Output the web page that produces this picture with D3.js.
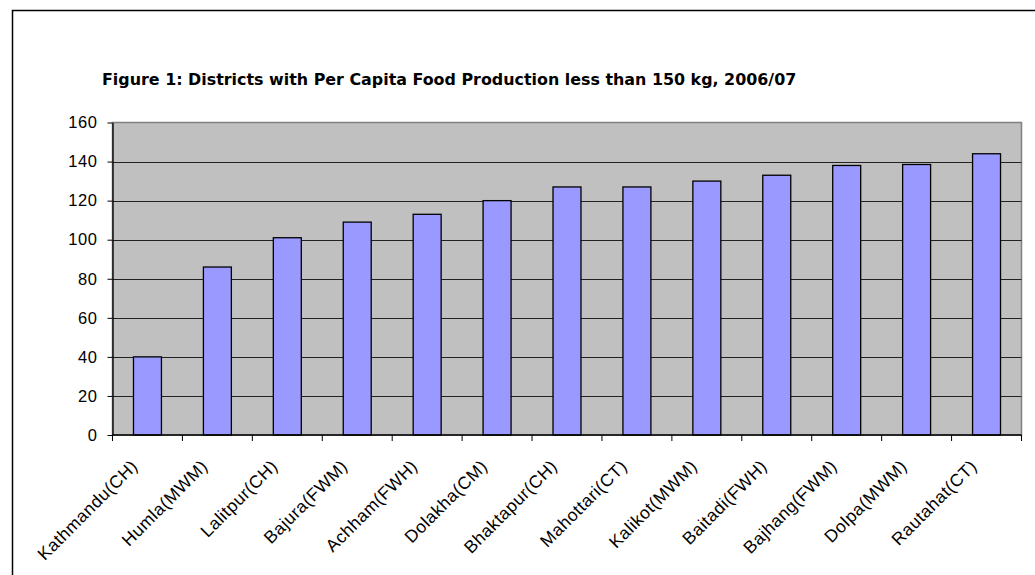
<!DOCTYPE html>
<html>
<head>
<meta charset="utf-8">
<script src="https://cdn.jsdelivr.net/npm/d3@7"></script>
<style>
  html, body { margin: 0; padding: 0; background: #fff; }
  svg { display: block; }
</style>
</head>
<body>
<svg id="chart" width="1035" height="575"></svg>
<script>
// District names with their agro-ecological zone codes
const districts = [
  "Kathmandu(CH)", "Humla(MWM)", "Lalitpur(CH)", "Bajura(FWM)", "Achham(FWH)",
  "Dolakha(CM)", "Bhaktapur(CH)", "Mahottari(CT)", "Kalikot(MWM)", "Baitadi(FWH)",
  "Bajhang(FWM)", "Dolpa(MWM)", "Rautahat(CT)"
];
// Per capita food production, kg
const production = [40, 86, 101, 109, 113, 120, 127, 127, 130, 133, 138, 138.5, 144];
// Value axis ticks
const yTicks = [0, 20, 40, 60, 80, 100, 120, 140, 160];
const titleText = "Figure 1: Districts with Per Capita Food Production less than 150 kg, 2006/07";

const svg = d3.select("#chart");
const labelFont = "'Liberation Sans', Arial, sans-serif";

// Outer chart frame (continues past the visible window on right and bottom)
svg.append("rect")
  .attr("x", 12.5).attr("y", 10.5)
  .attr("width", 1040).attr("height", 600)
  .attr("fill", "#fff").attr("stroke", "#000").attr("stroke-width", 1.5);

const plot = { left: 112.5, right: 1021.5, top: 122.5, bottom: 435 };

const x = d3.scaleBand()
  .domain(districts)
  .range([plot.left, plot.right])
  .paddingInner(0.6).paddingOuter(0.3);

const y = d3.scaleLinear()
  .domain([0, 160])
  .range([plot.bottom, plot.top]);

// Plot area background
svg.append("rect")
  .attr("x", plot.left).attr("y", plot.top)
  .attr("width", plot.right - plot.left).attr("height", plot.bottom - plot.top)
  .attr("fill", "#c0c0c0").attr("stroke", "#808080").attr("stroke-width", 1.5);

// Horizontal gridlines
svg.append("g")
  .selectAll("line")
  .data(yTicks.filter(d => d > 0 && d < 160))
  .join("line")
  .attr("x1", plot.left).attr("x2", plot.right)
  .attr("y1", d => Math.round(y(d)) + 0.5).attr("y2", d => Math.round(y(d)) + 0.5)
  .attr("stroke", "#222").attr("stroke-width", 1);

// Bars
svg.append("g")
  .selectAll("rect")
  .data(production)
  .join("rect")
  .attr("x", (d, i) => x(districts[i]))
  .attr("y", d => y(d))
  .attr("width", x.bandwidth())
  .attr("height", d => y(0) - y(d))
  .attr("fill", "#9999ff")
  .attr("stroke", "#000").attr("stroke-width", 1.3);

// Y axis
const yAxis = svg.append("g")
  .attr("transform", `translate(${plot.left},0)`)
  .call(d3.axisLeft(y).tickValues(yTicks).tickSize(5).tickPadding(10).tickSizeOuter(0));
yAxis.select(".domain").attr("stroke", "#000").attr("stroke-width", 1.3);
yAxis.selectAll(".tick line").attr("stroke", "#000");
yAxis.selectAll("text")
  .style("font-family", labelFont)
  .style("font-size", "16.5px").attr("letter-spacing", 0.6).attr("fill", "#000");

// X axis: ticks sit on category boundaries
const boundaries = d3.range(districts.length + 1).map(i => plot.left + i * (plot.right - plot.left) / districts.length);
const xAxisG = svg.append("g");
xAxisG.append("line")
  .attr("x1", plot.left).attr("x2", plot.right)
  .attr("y1", plot.bottom).attr("y2", plot.bottom)
  .attr("stroke", "#000").attr("stroke-width", 1.3);
xAxisG.selectAll("line.tick")
  .data(boundaries)
  .join("line").attr("class", "tick")
  .attr("x1", d => d).attr("x2", d => d)
  .attr("y1", plot.bottom).attr("y2", plot.bottom + 6)
  .attr("stroke", "#000");

// Rotated category labels
xAxisG.selectAll("text")
  .data(districts)
  .join("text")
  .attr("transform", d => `translate(${x(d) + x.bandwidth() / 2 - 13},${plot.bottom + 28}) rotate(-45)`)
  .attr("text-anchor", "end")
  .attr("dy", "0.35em")
  .style("font-family", labelFont)
  .style("font-size", "17.5px").attr("letter-spacing", 0.5).attr("fill", "#000")
  .text(d => d);

// Title
const title = svg.append("text")
  .attr("x", 102).attr("y", 85)
  .style("font-family", "'DejaVu Sans', Verdana, sans-serif")
  .style("font-weight", "bold")
  .style("font-size", "15px")
  .attr("fill", "#000")
  .text(titleText);
const w = title.node().getComputedTextLength();
title.style("font-size", (15 * 695 / w) + "px");
</script>
</body>
</html>
